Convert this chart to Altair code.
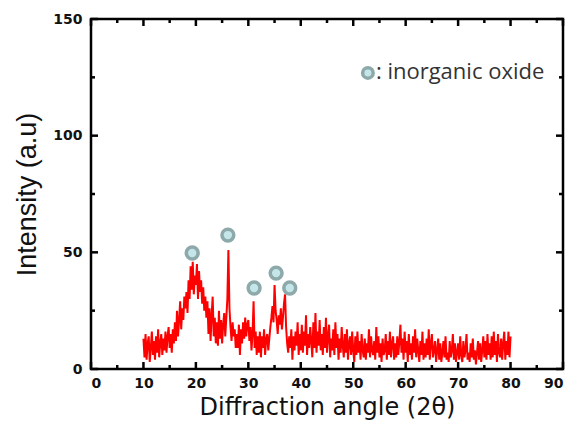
import altair as alt
import pandas as pd

# ---------------- data ----------------
x_start = 10.0
x_step = 0.2
intensity = [
    13, 5, 15, 4, 11, 14, 3, 9, 16, 6,
    12, 4, 14, 7, 17, 5, 11, 15, 6, 13,
    8, 16, 7, 14, 18, 9, 15, 7, 17, 11,
    20, 12, 25, 14, 21, 29, 17, 26, 21, 31,
    26, 33, 24, 38, 30, 44, 34, 46, 32, 40,
    36, 45, 30, 42, 33, 38, 28, 35, 25, 31,
    22, 29, 15, 26, 12, 23, 31, 14, 22, 11,
    20, 10, 25, 13, 21, 11, 19, 24, 14, 22,
    30, 51, 26, 18, 12, 20, 14, 17, 9, 15,
    9, 19, 6, 17, 11, 20, 13, 22, 14, 19,
    21, 12, 18, 8, 15, 29, 9, 16, 6, 14,
    7, 16, 5, 14, 9, 17, 6, 13, 15, 8,
    13, 18, 22, 27, 20, 36, 25, 21, 15, 23,
    19, 26, 17, 22, 28, 32, 18, 11, 7, 14,
    9, 17, 4, 14, 8, 16, 10, 20, 6, 15,
    8, 19, 7, 16, 10, 23, 6, 15, 9, 18,
    12, 5, 20, 9, 24, 7, 16, 10, 21, 8,
    15, 6, 18, 9, 22, 7, 14, 19, 5, 13,
    8, 17, 6, 20, 9, 15, 4, 13, 7, 18,
    10, 5, 15, 7, 17, 4, 11, 14, 6, 16,
    8, 3, 14, 6, 16, 7, 12, 4, 15, 8,
    5, 13, 4, 11, 7, 17, 5, 14, 8, 6,
    12, 4, 18, 7, 14, 5, 11, 3, 13, 6,
    8, 15, 4, 12, 6, 16, 5, 11, 14, 4,
    11, 5, 14, 6, 12, 19, 7, 13, 4, 16,
    7, 12, 3, 15, 6, 11, 4, 14, 7, 17,
    5, 13, 8, 3, 12, 6, 16, 4, 11, 5,
    13, 6, 17, 4, 11, 15, 5, 8, 12, 3,
    8, 13, 4, 11, 3, 7, 12, 5, 14, 4,
    7, 3, 12, 5, 8, 15, 4, 11, 3, 7,
    11, 4, 14, 6, 3, 12, 5, 8, 15, 4,
    7, 3, 11, 5, 13, 4, 8, 2, 7, 12,
    4, 11, 3, 8, 14, 5, 12, 4, 15, 6,
    11, 4, 14, 5, 16, 6, 12, 3, 15, 7,
    5, 13, 4, 11, 16, 4, 12, 6, 16, 5,
    14,
]
angles = [round(x_start + i * x_step, 2) for i in range(len(intensity))]

marker_x = [19.3, 26.1, 31.1, 35.3, 37.9]
marker_y = [49.7, 57.4, 34.7, 41.1, 34.7]

legend_x = [52.8]
legend_y = [126.9]
legend_label = [": inorganic oxide"]

x_major = [0, 10, 20, 30, 40, 50, 60, 70, 80, 90]
x_minor = [5, 15, 25, 35, 45, 55, 65, 75, 85]
y_major = [0, 50, 100, 150]
y_minor = [25, 75, 125]

# ---------------- chart ----------------
W, H = 472, 350
xs = alt.Scale(domain=[0, 90], nice=False)
ys = alt.Scale(domain=[0, 150], nice=False)

df = pd.DataFrame({"angle": angles, "intensity": intensity})
line = alt.Chart(df).mark_line(color="#ff0000", strokeWidth=2).encode(
    x=alt.X("angle:Q", scale=xs, title="Diffraction angle (2θ)",
            axis=alt.Axis(values=x_major, ticks=False, domain=False, grid=False,
                          labelFont="DejaVu Sans", labelFontWeight="bold",
                          labelFontSize=14, labelColor="#111", labelPadding=7,
                          titleFont="DejaVu Sans", titleFontWeight="normal",
                          titleFontSize=24, titleColor="#111", titlePadding=5)),
    y=alt.Y("intensity:Q", scale=ys, title="Intensity (a.u)",
            axis=alt.Axis(values=y_major, ticks=False, domain=False, grid=False,
                          labelFont="DejaVu Sans", labelFontWeight="bold",
                          labelFontSize=14, labelColor="#111", labelPadding=9,
                          titleFont="Liberation Sans", titleFontWeight="normal",
                          titleFontSize=27, titleColor="#111", titlePadding=11)),
)

mdf = pd.DataFrame({"x": marker_x, "y": marker_y})
markers = alt.Chart(mdf).mark_point(filled=False, size=140, stroke="#8ea9aa",
                                    strokeWidth=3.5, fill="#c4e6e8", fillOpacity=1).encode(
    x=alt.X("x:Q", scale=xs), y=alt.Y("y:Q", scale=ys))

ldf = pd.DataFrame({"x": legend_x, "y": legend_y, "label": legend_label})
leg_pt = alt.Chart(ldf).mark_point(filled=False, size=110, stroke="#8ea9aa",
                                   strokeWidth=3.5, fill="#c4e6e8", fillOpacity=1).encode(
    x=alt.X("x:Q", scale=xs), y=alt.Y("y:Q", scale=ys))
leg_txt = alt.Chart(ldf).mark_text(align="left", baseline="middle", dx=8, dy=-1,
                                   font="Open Sans", fontSize=22, color="#333").encode(
    x=alt.X("x:Q", scale=xs), y=alt.Y("y:Q", scale=ys), text="label:N")

def xticks(vals, length):
    d = pd.DataFrame({"v": vals})
    b = alt.Chart(d).mark_rule(color="black", strokeWidth=2.5).encode(
        x=alt.X("v:Q", scale=xs), y=alt.value(H), y2=alt.value(H - length))
    t = alt.Chart(d).mark_rule(color="black", strokeWidth=2.5).encode(
        x=alt.X("v:Q", scale=xs), y=alt.value(0), y2=alt.value(length))
    return b + t

def yticks(vals, length):
    d = pd.DataFrame({"v": vals})
    l = alt.Chart(d).mark_rule(color="black", strokeWidth=2.5).encode(
        y=alt.Y("v:Q", scale=ys), x=alt.value(0), x2=alt.value(length))
    r = alt.Chart(d).mark_rule(color="black", strokeWidth=2.5).encode(
        y=alt.Y("v:Q", scale=ys), x=alt.value(W), x2=alt.value(W - length))
    return l + r

chart = alt.layer(
    line, markers, leg_pt, leg_txt,
    xticks(x_major, 7), xticks(x_minor, 4),
    yticks(y_major, 7), yticks(y_minor, 4),
).properties(
    width=W, height=H,
    autosize=alt.AutoSizeParams(type="none"),
    padding={"left": 83, "top": 11, "right": 8, "bottom": 58},
).configure_view(stroke="black", strokeWidth=2.5)

chart.save("out.html", embed_options={"renderer": "svg", "actions": False})
